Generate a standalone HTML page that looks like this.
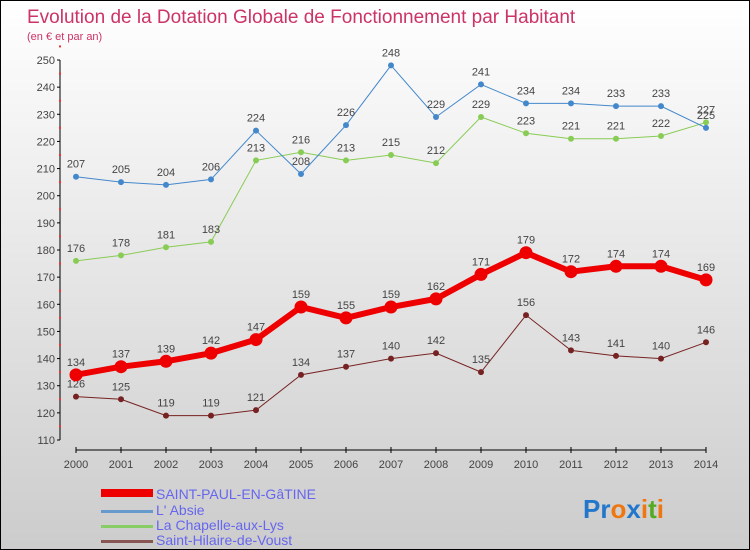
<!DOCTYPE html>
<html><head><meta charset="utf-8"><style>
body{margin:0}
#c{width:748px;height:548px;border:1px solid #000;position:relative;background:linear-gradient(#ffffff,#cccccc);font-family:"Liberation Sans",sans-serif;overflow:hidden}
</style></head><body>
<div id="c">
<svg id="s" width="748" height="548" xmlns="http://www.w3.org/2000/svg">
<text x="26" y="22" font-size="19" fill="#cc3366">Evolution de la Dotation Globale de Fonctionnement par Habitant</text>
<text x="26" y="39" font-size="11" fill="#cc3366">(en € et par an)</text>
<g id="axes"></g><g id="series"></g>
<g>
<rect x="100" y="488" width="52" height="8" fill="#ee0000"/>
<text x="155" y="498" font-size="14" fill="#6666ee">SAINT-PAUL-EN-GâTINE</text>
<rect x="100" y="509" width="52" height="3" fill="#6699cc"/>
<text x="155" y="514" font-size="14" fill="#6666ee">L' Absie</text>
<rect x="100" y="524" width="52" height="3" fill="#88cc66"/>
<text x="155" y="529" font-size="14" fill="#6666ee">La Chapelle-aux-Lys</text>
<rect x="100" y="539" width="52" height="3" fill="#885555"/>
<text x="155" y="544" font-size="14" fill="#6666ee">Saint-Hilaire-de-Voust</text>
</g>
<text x="582" y="517" font-size="26" font-weight="bold"><tspan fill="#2277cc">Pr</tspan><tspan fill="#ee7711">o</tspan><tspan fill="#2277cc">x</tspan><tspan fill="#ee7711">i</tspan><tspan fill="#55aa22">t</tspan><tspan fill="#ee7711">i</tspan></text>
</svg></div>
<script>
const years=["2000","2001","2002","2003","2004","2005","2006","2007","2008","2009","2010","2011","2012","2013","2014"];
const yTicks=[110,120,130,140,150,160,170,180,190,200,210,220,230,240,250];
const saintPaul=[134,137,139,142,147,159,155,159,162,171,179,172,174,174,169];
const absie=[207,205,204,206,224,208,226,248,229,241,234,234,233,233,225];
const chapelle=[176,178,181,183,213,216,213,215,212,229,223,221,221,222,227];
const hilaire=[126,125,119,119,121,134,137,140,142,135,156,143,141,140,146];
const NS="http://www.w3.org/2000/svg";
const xs=i=>75+i*45;
const ys=v=>439-(v-110)*380/140;
function mk(t,a,p){const e=document.createElementNS(NS,t);for(const k in a)e.setAttribute(k,a[k]);p.appendChild(e);return e;}
const ax=document.getElementById('axes');
let e=mk('line',{x1:59,y1:ys(250),x2:59,y2:ys(110),stroke:'#000'},ax);

yTicks.forEach(v=>{mk('line',{x1:56,y1:ys(v),x2:59,y2:ys(v),stroke:'#000'},ax);
const t=mk('text',{x:54,y:ys(v)+4,'font-size':11,fill:'#444','text-anchor':'end'},ax);t.textContent=v;

mk('rect',{x:58,y:ys(v+5)-1,width:2,height:2,fill:'#e33'},ax);});
e=mk('line',{x1:xs(0),y1:449,x2:xs(14),y2:449,stroke:'#000'},ax);

years.forEach((y,i)=>{mk('line',{x1:xs(i),y1:446,x2:xs(i),y2:452,stroke:'#000'},ax);
const t=mk('text',{x:xs(i),y:467,'font-size':11,fill:'#444','text-anchor':'middle'},ax);t.textContent=y;
});
const sg=document.getElementById('series');
function draw(data,name,col,w,r){
const g=mk('g',{},sg);
const pts=data.map((v,i)=>xs(i)+','+ys(v)).join(' ');
mk('polyline',{points:pts,fill:'none',stroke:col,'stroke-width':w},g);
data.forEach((v,i)=>{const c=mk('circle',{cx:xs(i),cy:ys(v),r:r,fill:col},g);

const t=mk('text',{x:xs(i),y:ys(v)-9,'font-size':11,fill:'#444','text-anchor':'middle'},g);t.textContent=v;
});}
draw(hilaire,'saint-hilaire','#772222',1,3);
draw(chapelle,'chapelle','#88cc55',1,3);
draw(absie,'absie','#4488cc',1,3);
draw(saintPaul,'saint-paul','#ee0000',6,6.5);
</script></body></html>
